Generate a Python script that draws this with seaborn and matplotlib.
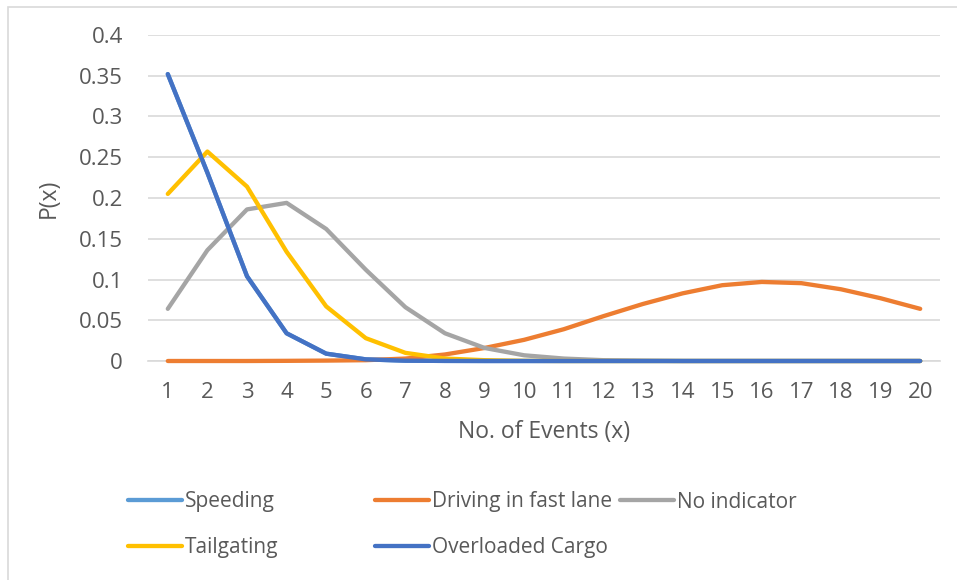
import pandas as pd
import matplotlib.pyplot as plt
import seaborn as sns
from matplotlib.lines import Line2D
from matplotlib.patches import Rectangle

# Number of events on the x axis
events = list(range(1, 21))

# P(x) values for each series
speeding = [0.352, 0.231, 0.104, 0.034, 0.009, 0.002, 0.0004, 0.0001, 0, 0,
            0, 0, 0, 0, 0, 0, 0, 0, 0, 0]
fast_lane = [0, 0, 0, 0.0002, 0.0005, 0.001, 0.003, 0.008, 0.016, 0.026,
             0.039, 0.055, 0.070, 0.083, 0.093, 0.097, 0.0955, 0.088, 0.077, 0.064]
no_indicator = [0.064, 0.136, 0.186, 0.194, 0.162, 0.112, 0.066, 0.034, 0.016, 0.007,
                0.003, 0.001, 0.0004, 0, 0, 0, 0, 0, 0, 0]
tailgating = [0.205, 0.257, 0.214, 0.134, 0.067, 0.028, 0.010, 0.003, 0.001, 0.0002,
              0, 0, 0, 0, 0, 0, 0, 0, 0, 0]
overloaded = [0.352, 0.231, 0.104, 0.034, 0.009, 0.002, 0.0004, 0.0001, 0, 0,
              0, 0, 0, 0, 0, 0, 0, 0, 0, 0]

series_names = ['Speeding', 'Driving in fast lane', 'No indicator', 'Tailgating', 'Overloaded Cargo']
series_values = [speeding, fast_lane, no_indicator, tailgating, overloaded]
colors = ['#5B9BD5', '#ED7D31', '#A5A5A5', '#FFC000', '#4472C4']

# Long-form table for seaborn
frames = []
for name, vals in zip(series_names, series_values):
    frames.append(pd.DataFrame({'x': events, 'P': vals, 'series': name}))
df = pd.concat(frames, ignore_index=True)

sns.set_style('white')
plt.rcParams['font.family'] = ['Open Sans', 'DejaVu Sans']

fig = plt.figure(figsize=(9.57, 5.80), dpi=100)
ax = fig.add_axes([148 / 957, 1 - 361 / 580, 792 / 957, 326 / 580])

sns.lineplot(data=df, x='x', y='P', hue='series', hue_order=series_names,
             palette=dict(zip(series_names, colors)), linewidth=3.1,
             legend=False, ax=ax, solid_capstyle='round')
# let the lines sitting on zero show at full width
for line in ax.lines:
    line.set_clip_on(False)

# Axes styling (Excel look)
ax.set_xlim(0.5, 20.5)
ax.set_ylim(0, 0.4)
ax.set_xticks(events)
ax.set_yticks([i * 0.05 for i in range(9)])
ax.set_yticklabels(['0', '0.05', '0.1', '0.15', '0.2', '0.25', '0.3', '0.35', '0.4'])
ax.yaxis.grid(True, color='#D9D9D9', linewidth=1.2)
ax.set_axisbelow(True)
for side in ['top', 'right', 'left']:
    ax.spines[side].set_visible(False)
ax.spines['bottom'].set_color('#D9D9D9')
ax.spines['bottom'].set_linewidth(1.2)
ax.spines['bottom'].set_zorder(0.5)
ax.tick_params(axis='both', length=0, labelsize=16, colors='#595959')
ax.tick_params(axis='x', pad=15)
ax.tick_params(axis='y', pad=18)
ax.set_xlabel('No. of Events (x)', fontsize=16.5, color='#595959', labelpad=12)
ax.set_ylabel('P(x)', fontsize=16.5, color='#595959', labelpad=13)

# Legend entries placed like Excel's bottom legend
legend_pos = [(128, 502), (375, 502), (620, 502), (128, 548), (375, 548)]
for name, color, (px, py) in zip(series_names, colors, legend_pos):
    h = Line2D([], [], color=color, linewidth=3.1, solid_capstyle='round')
    fig.legend(handles=[h], labels=[name], loc='center left',
               bbox_to_anchor=(px / 957, 1 - py / 580), frameon=False,
               fontsize=15, labelcolor='#595959', handlelength=2.6,
               handletextpad=0.15, borderpad=0, borderaxespad=0)

# Chart border
fig.patches.append(Rectangle((8 / 957, -0.1), 1.2, 1.1 - 7 / 580, transform=fig.transFigure,
                             fill=False, edgecolor='#D9D9D9', linewidth=1.2))

fig.savefig('out.png', dpi=100)
